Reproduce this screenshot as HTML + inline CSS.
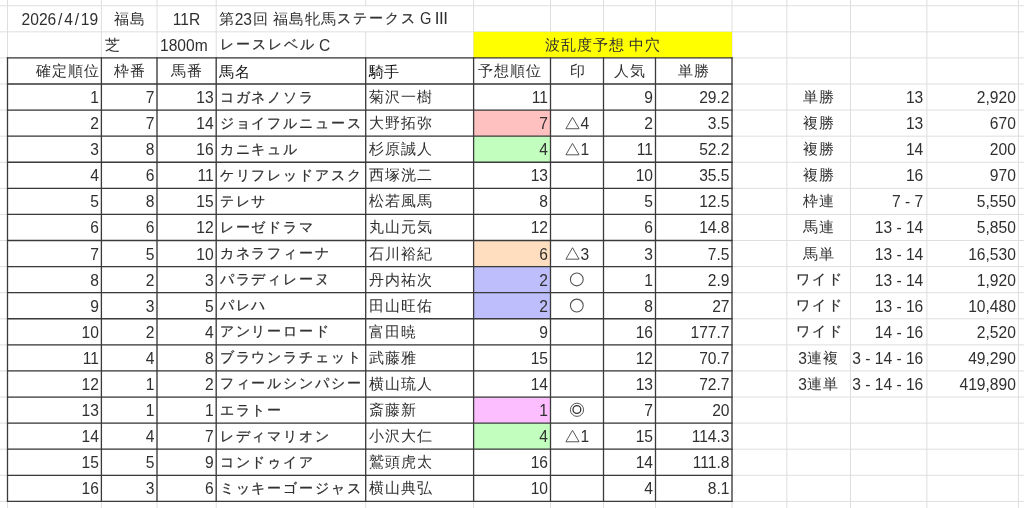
<!DOCTYPE html>
<html lang="ja"><head><meta charset="utf-8"><style>
html,body{margin:0;padding:0;background:#fff;}
body{width:1024px;height:508px;overflow:hidden;position:relative;font-family:"Liberation Sans",sans-serif;font-size:15.6px;color:#303030;}
svg{position:absolute;left:0;top:0;}
.t{position:absolute;white-space:nowrap;-webkit-font-smoothing:antialiased;}
.sl{margin:0 1.8px;}
.j{font-size:14.6px;letter-spacing:1.0px;margin-left:0.5px;margin-right:-0.5px;position:relative;top:-1px;}
.k{font-size:14.0px;letter-spacing:1.9px;margin-left:0.95px;margin-right:-0.95px;position:relative;top:-1.5px;-webkit-text-stroke:0.25px #303030;}
.s{font-size:15.6px;}
</style></head><body>
<div id="w" style="position:absolute;left:0;top:0;width:1024px;height:508px;will-change:transform;">
<svg width="1024" height="508" viewBox="0 0 1024 508"><line x1="0" y1="5.75" x2="1024" y2="5.75" stroke="#dedede" stroke-width="1"/><line x1="0" y1="31.84" x2="1024" y2="31.84" stroke="#dedede" stroke-width="1"/><line x1="0" y1="57.92" x2="1024" y2="57.92" stroke="#dedede" stroke-width="1"/><line x1="0" y1="84.00" x2="1024" y2="84.00" stroke="#dedede" stroke-width="1"/><line x1="0" y1="110.09" x2="1024" y2="110.09" stroke="#dedede" stroke-width="1"/><line x1="0" y1="136.18" x2="1024" y2="136.18" stroke="#dedede" stroke-width="1"/><line x1="0" y1="162.26" x2="1024" y2="162.26" stroke="#dedede" stroke-width="1"/><line x1="0" y1="188.34" x2="1024" y2="188.34" stroke="#dedede" stroke-width="1"/><line x1="0" y1="214.43" x2="1024" y2="214.43" stroke="#dedede" stroke-width="1"/><line x1="0" y1="240.52" x2="1024" y2="240.52" stroke="#dedede" stroke-width="1"/><line x1="0" y1="266.60" x2="1024" y2="266.60" stroke="#dedede" stroke-width="1"/><line x1="0" y1="292.69" x2="1024" y2="292.69" stroke="#dedede" stroke-width="1"/><line x1="0" y1="318.77" x2="1024" y2="318.77" stroke="#dedede" stroke-width="1"/><line x1="0" y1="344.86" x2="1024" y2="344.86" stroke="#dedede" stroke-width="1"/><line x1="0" y1="370.94" x2="1024" y2="370.94" stroke="#dedede" stroke-width="1"/><line x1="0" y1="397.03" x2="1024" y2="397.03" stroke="#dedede" stroke-width="1"/><line x1="0" y1="423.11" x2="1024" y2="423.11" stroke="#dedede" stroke-width="1"/><line x1="0" y1="449.19" x2="1024" y2="449.19" stroke="#dedede" stroke-width="1"/><line x1="0" y1="475.28" x2="1024" y2="475.28" stroke="#dedede" stroke-width="1"/><line x1="0" y1="501.37" x2="1024" y2="501.37" stroke="#dedede" stroke-width="1"/><line x1="7.50" y1="0" x2="7.50" y2="508" stroke="#dedede" stroke-width="1"/><line x1="101.40" y1="0" x2="101.40" y2="508" stroke="#dedede" stroke-width="1"/><line x1="157.00" y1="0" x2="157.00" y2="508" stroke="#dedede" stroke-width="1"/><line x1="216.20" y1="0" x2="216.20" y2="508" stroke="#dedede" stroke-width="1"/><line x1="365.70" y1="0" x2="365.70" y2="508" stroke="#dedede" stroke-width="1"/><line x1="473.60" y1="0" x2="473.60" y2="508" stroke="#dedede" stroke-width="1"/><line x1="550.50" y1="0" x2="550.50" y2="508" stroke="#dedede" stroke-width="1"/><line x1="603.50" y1="0" x2="603.50" y2="508" stroke="#dedede" stroke-width="1"/><line x1="655.50" y1="0" x2="655.50" y2="508" stroke="#dedede" stroke-width="1"/><line x1="732.00" y1="0" x2="732.00" y2="508" stroke="#dedede" stroke-width="1"/><line x1="786.80" y1="0" x2="786.80" y2="508" stroke="#dedede" stroke-width="1"/><line x1="850.50" y1="0" x2="850.50" y2="508" stroke="#dedede" stroke-width="1"/><line x1="926.90" y1="0" x2="926.90" y2="508" stroke="#dedede" stroke-width="1"/><line x1="1018.40" y1="0" x2="1018.40" y2="508" stroke="#dedede" stroke-width="1"/><rect x="364.70" y="6.35" width="2" height="24.89" fill="#fff"/><rect x="473.60" y="31.84" width="258.40" height="26.09" fill="#ffff00"/><rect x="473.60" y="110.09" width="76.90" height="26.09" fill="#ffc0c0"/><rect x="473.60" y="136.18" width="76.90" height="26.08" fill="#c2ffbe"/><rect x="473.60" y="240.52" width="76.90" height="26.09" fill="#ffdec0"/><rect x="473.60" y="266.60" width="76.90" height="26.08" fill="#bebefc"/><rect x="473.60" y="292.69" width="76.90" height="26.08" fill="#bebefc"/><rect x="473.60" y="397.03" width="76.90" height="26.08" fill="#fdbeff"/><rect x="473.60" y="423.11" width="76.90" height="26.08" fill="#c2ffbe"/><line x1="6.90" y1="57.92" x2="732.60" y2="57.92" stroke="#3a3a3a" stroke-width="1.3"/><line x1="6.90" y1="84.00" x2="732.60" y2="84.00" stroke="#3a3a3a" stroke-width="1.3"/><line x1="6.90" y1="110.09" x2="732.60" y2="110.09" stroke="#3a3a3a" stroke-width="1.3"/><line x1="6.90" y1="136.18" x2="732.60" y2="136.18" stroke="#3a3a3a" stroke-width="1.3"/><line x1="6.90" y1="162.26" x2="732.60" y2="162.26" stroke="#3a3a3a" stroke-width="1.3"/><line x1="6.90" y1="188.34" x2="732.60" y2="188.34" stroke="#3a3a3a" stroke-width="1.3"/><line x1="6.90" y1="214.43" x2="732.60" y2="214.43" stroke="#3a3a3a" stroke-width="1.3"/><line x1="6.90" y1="240.52" x2="732.60" y2="240.52" stroke="#3a3a3a" stroke-width="1.3"/><line x1="6.90" y1="266.60" x2="732.60" y2="266.60" stroke="#3a3a3a" stroke-width="1.3"/><line x1="6.90" y1="292.69" x2="732.60" y2="292.69" stroke="#3a3a3a" stroke-width="1.3"/><line x1="6.90" y1="318.77" x2="732.60" y2="318.77" stroke="#3a3a3a" stroke-width="1.3"/><line x1="6.90" y1="344.86" x2="732.60" y2="344.86" stroke="#3a3a3a" stroke-width="1.3"/><line x1="6.90" y1="370.94" x2="732.60" y2="370.94" stroke="#3a3a3a" stroke-width="1.3"/><line x1="6.90" y1="397.03" x2="732.60" y2="397.03" stroke="#3a3a3a" stroke-width="1.3"/><line x1="6.90" y1="423.11" x2="732.60" y2="423.11" stroke="#3a3a3a" stroke-width="1.3"/><line x1="6.90" y1="449.19" x2="732.60" y2="449.19" stroke="#3a3a3a" stroke-width="1.3"/><line x1="6.90" y1="475.28" x2="732.60" y2="475.28" stroke="#3a3a3a" stroke-width="1.3"/><line x1="6.90" y1="501.37" x2="732.60" y2="501.37" stroke="#3a3a3a" stroke-width="1.3"/><line x1="7.50" y1="57.32" x2="7.50" y2="501.97" stroke="#3a3a3a" stroke-width="1.3"/><line x1="101.40" y1="57.32" x2="101.40" y2="501.97" stroke="#3a3a3a" stroke-width="1.3"/><line x1="157.00" y1="57.32" x2="157.00" y2="501.97" stroke="#3a3a3a" stroke-width="1.3"/><line x1="216.20" y1="57.32" x2="216.20" y2="501.97" stroke="#3a3a3a" stroke-width="1.3"/><line x1="365.70" y1="57.32" x2="365.70" y2="501.97" stroke="#3a3a3a" stroke-width="1.3"/><line x1="473.60" y1="57.32" x2="473.60" y2="501.97" stroke="#3a3a3a" stroke-width="1.3"/><line x1="550.50" y1="57.32" x2="550.50" y2="501.97" stroke="#3a3a3a" stroke-width="1.3"/><line x1="603.50" y1="57.32" x2="603.50" y2="501.97" stroke="#3a3a3a" stroke-width="1.3"/><line x1="655.50" y1="57.32" x2="655.50" y2="501.97" stroke="#3a3a3a" stroke-width="1.3"/><line x1="732.00" y1="57.32" x2="732.00" y2="501.97" stroke="#3a3a3a" stroke-width="1.3"/><path d="M565.90 128.73 L572.50 117.33 L579.10 128.73 Z" fill="none" stroke="#444" stroke-width="0.9" stroke-linejoin="miter"/><path d="M565.90 154.82 L572.50 143.42 L579.10 154.82 Z" fill="none" stroke="#444" stroke-width="0.9" stroke-linejoin="miter"/><path d="M565.90 259.16 L572.50 247.76 L579.10 259.16 Z" fill="none" stroke="#444" stroke-width="0.9" stroke-linejoin="miter"/><circle cx="576.80" cy="279.44" r="6.4" fill="none" stroke="#555" stroke-width="1.1"/><circle cx="576.80" cy="305.53" r="6.4" fill="none" stroke="#555" stroke-width="1.1"/><circle cx="577.00" cy="409.77" r="6.6" fill="none" stroke="#555" stroke-width="1"/><circle cx="576.90" cy="409.57" r="3.9" fill="none" stroke="#333" stroke-width="1.3"/><path d="M565.90 441.75 L572.50 430.35 L579.10 441.75 Z" fill="none" stroke="#444" stroke-width="0.9" stroke-linejoin="miter"/></svg>
<div class="t" style="left:7.50px;width:90.70px;text-align:right;top:6.75px;height:26.09px;line-height:26.09px;">2026<span class="sl">/</span>4<span class="sl">/</span>19</div><div class="t" style="left:101.40px;width:55.60px;text-align:center;top:6.75px;height:26.09px;line-height:26.09px;"><span class="j">福島</span></div><div class="t" style="left:157.00px;width:59.20px;text-align:center;top:6.75px;height:26.09px;line-height:26.09px;">11R</div><div class="t" style="left:218.70px;top:6.75px;height:26.09px;line-height:26.09px;"><span class="j">第</span>23<span class="j">回</span> <span class="j">福島牝馬</span><span class="k">ステークス</span> <span id="gg" style="position:absolute;left:201.70px;top:-0.5px;font-size:17px;display:inline-block;transform:scaleX(0.86);transform-origin:0 50%">G</span><span id="g3" style="position:absolute;left:216.00px;top:-0.5px;font-size:17px;letter-spacing:-0.4px">III</span></div><div class="t" style="left:104.40px;width:52.60px;text-align:left;top:32.84px;height:26.09px;line-height:26.09px;"><span class="j">芝</span></div><div class="t" style="left:160.00px;width:56.20px;text-align:left;top:32.84px;height:26.09px;line-height:26.09px;">1800m</div><div class="t" style="left:219.20px;width:146.50px;text-align:left;top:32.84px;height:26.09px;line-height:26.09px;"><span class="k">レースレベル</span> C</div><div class="t" style="left:473.60px;width:258.40px;text-align:center;top:32.84px;height:26.09px;line-height:26.09px;"><span class="j">波乱度予想</span> <span class="j">中穴</span></div><div class="t" style="left:7.50px;width:92.10px;text-align:right;top:58.92px;height:26.08px;line-height:26.08px;"><span class="j">確定順位</span></div><div class="t" style="left:101.40px;width:55.60px;text-align:center;top:58.92px;height:26.08px;line-height:26.08px;"><span class="j">枠番</span></div><div class="t" style="left:157.00px;width:59.20px;text-align:center;top:58.92px;height:26.08px;line-height:26.08px;"><span class="j">馬番</span></div><div class="t" style="left:218.70px;width:147.00px;text-align:left;top:58.92px;height:26.08px;line-height:26.08px;"><span class="j" style="font-size:15.4px;letter-spacing:0.4px;color:#111;top:0.3px">馬名</span></div><div class="t" style="left:368.20px;width:105.40px;text-align:left;top:58.92px;height:26.08px;line-height:26.08px;"><span class="j" style="font-size:15.4px;letter-spacing:0.4px;color:#111;top:0.3px">騎手</span></div><div class="t" style="left:473.60px;width:76.90px;text-align:center;top:58.92px;height:26.08px;line-height:26.08px;margin-left:-3px;"><span class="j">予想順位</span></div><div class="t" style="left:550.50px;width:53.00px;text-align:center;top:58.92px;height:26.08px;line-height:26.08px;"><span class="j">印</span></div><div class="t" style="left:603.50px;width:52.00px;text-align:center;top:58.92px;height:26.08px;line-height:26.08px;"><span class="j">人気</span></div><div class="t" style="left:655.50px;width:76.50px;text-align:center;top:58.92px;height:26.08px;line-height:26.08px;"><span class="j">単勝</span></div><div class="t" style="left:7.50px;width:91.40px;text-align:right;top:85.00px;height:26.09px;line-height:26.09px;">1</div><div class="t" style="left:101.40px;width:53.10px;text-align:right;top:85.00px;height:26.09px;line-height:26.09px;">7</div><div class="t" style="left:157.00px;width:56.70px;text-align:right;top:85.00px;height:26.09px;line-height:26.09px;">13</div><div class="t" style="left:218.70px;width:147.00px;text-align:left;top:85.00px;height:26.09px;line-height:26.09px;"><span class="k">コガネノソラ</span></div><div class="t" style="left:368.20px;width:105.40px;text-align:left;top:85.00px;height:26.09px;line-height:26.09px;"><span class="j">菊沢一樹</span></div><div class="t" style="left:473.60px;width:74.40px;text-align:right;top:85.00px;height:26.09px;line-height:26.09px;">11</div><div class="t" style="left:603.50px;width:49.50px;text-align:right;top:85.00px;height:26.09px;line-height:26.09px;">9</div><div class="t" style="left:655.50px;width:74.00px;text-align:right;top:85.00px;height:26.09px;line-height:26.09px;">29.2</div><div class="t" style="left:7.50px;width:91.40px;text-align:right;top:111.09px;height:26.09px;line-height:26.09px;">2</div><div class="t" style="left:101.40px;width:53.10px;text-align:right;top:111.09px;height:26.09px;line-height:26.09px;">7</div><div class="t" style="left:157.00px;width:56.70px;text-align:right;top:111.09px;height:26.09px;line-height:26.09px;">14</div><div class="t" style="left:218.70px;width:147.00px;text-align:left;top:111.09px;height:26.09px;line-height:26.09px;"><span class="k">ジョイフルニュース</span></div><div class="t" style="left:368.20px;width:105.40px;text-align:left;top:111.09px;height:26.09px;line-height:26.09px;"><span class="j">大野拓弥</span></div><div class="t" style="left:473.60px;width:74.40px;text-align:right;top:111.09px;height:26.09px;line-height:26.09px;">7</div><div class="t" style="left:603.50px;width:49.50px;text-align:right;top:111.09px;height:26.09px;line-height:26.09px;">2</div><div class="t" style="left:655.50px;width:74.00px;text-align:right;top:111.09px;height:26.09px;line-height:26.09px;">3.5</div><div class="t s" style="left:580.6px;top:111.09px;height:26.09px;line-height:26.09px;">4</div><div class="t" style="left:7.50px;width:91.40px;text-align:right;top:137.18px;height:26.08px;line-height:26.08px;">3</div><div class="t" style="left:101.40px;width:53.10px;text-align:right;top:137.18px;height:26.08px;line-height:26.08px;">8</div><div class="t" style="left:157.00px;width:56.70px;text-align:right;top:137.18px;height:26.08px;line-height:26.08px;">16</div><div class="t" style="left:218.70px;width:147.00px;text-align:left;top:137.18px;height:26.08px;line-height:26.08px;"><span class="k">カニキュル</span></div><div class="t" style="left:368.20px;width:105.40px;text-align:left;top:137.18px;height:26.08px;line-height:26.08px;"><span class="j">杉原誠人</span></div><div class="t" style="left:473.60px;width:74.40px;text-align:right;top:137.18px;height:26.08px;line-height:26.08px;">4</div><div class="t" style="left:603.50px;width:49.50px;text-align:right;top:137.18px;height:26.08px;line-height:26.08px;">11</div><div class="t" style="left:655.50px;width:74.00px;text-align:right;top:137.18px;height:26.08px;line-height:26.08px;">52.2</div><div class="t s" style="left:580.6px;top:137.18px;height:26.09px;line-height:26.09px;">1</div><div class="t" style="left:7.50px;width:91.40px;text-align:right;top:163.26px;height:26.09px;line-height:26.09px;">4</div><div class="t" style="left:101.40px;width:53.10px;text-align:right;top:163.26px;height:26.09px;line-height:26.09px;">6</div><div class="t" style="left:157.00px;width:56.70px;text-align:right;top:163.26px;height:26.09px;line-height:26.09px;">11</div><div class="t" style="left:218.70px;width:147.00px;text-align:left;top:163.26px;height:26.09px;line-height:26.09px;"><span class="k">ケリフレッドアスク</span></div><div class="t" style="left:368.20px;width:105.40px;text-align:left;top:163.26px;height:26.09px;line-height:26.09px;"><span class="j">西塚洸二</span></div><div class="t" style="left:473.60px;width:74.40px;text-align:right;top:163.26px;height:26.09px;line-height:26.09px;">13</div><div class="t" style="left:603.50px;width:49.50px;text-align:right;top:163.26px;height:26.09px;line-height:26.09px;">10</div><div class="t" style="left:655.50px;width:74.00px;text-align:right;top:163.26px;height:26.09px;line-height:26.09px;">35.5</div><div class="t" style="left:7.50px;width:91.40px;text-align:right;top:189.34px;height:26.09px;line-height:26.09px;">5</div><div class="t" style="left:101.40px;width:53.10px;text-align:right;top:189.34px;height:26.09px;line-height:26.09px;">8</div><div class="t" style="left:157.00px;width:56.70px;text-align:right;top:189.34px;height:26.09px;line-height:26.09px;">15</div><div class="t" style="left:218.70px;width:147.00px;text-align:left;top:189.34px;height:26.09px;line-height:26.09px;"><span class="k">テレサ</span></div><div class="t" style="left:368.20px;width:105.40px;text-align:left;top:189.34px;height:26.09px;line-height:26.09px;"><span class="j">松若風馬</span></div><div class="t" style="left:473.60px;width:74.40px;text-align:right;top:189.34px;height:26.09px;line-height:26.09px;">8</div><div class="t" style="left:603.50px;width:49.50px;text-align:right;top:189.34px;height:26.09px;line-height:26.09px;">5</div><div class="t" style="left:655.50px;width:74.00px;text-align:right;top:189.34px;height:26.09px;line-height:26.09px;">12.5</div><div class="t" style="left:7.50px;width:91.40px;text-align:right;top:215.43px;height:26.09px;line-height:26.09px;">6</div><div class="t" style="left:101.40px;width:53.10px;text-align:right;top:215.43px;height:26.09px;line-height:26.09px;">6</div><div class="t" style="left:157.00px;width:56.70px;text-align:right;top:215.43px;height:26.09px;line-height:26.09px;">12</div><div class="t" style="left:218.70px;width:147.00px;text-align:left;top:215.43px;height:26.09px;line-height:26.09px;"><span class="k">レーゼドラマ</span></div><div class="t" style="left:368.20px;width:105.40px;text-align:left;top:215.43px;height:26.09px;line-height:26.09px;"><span class="j">丸山元気</span></div><div class="t" style="left:473.60px;width:74.40px;text-align:right;top:215.43px;height:26.09px;line-height:26.09px;">12</div><div class="t" style="left:603.50px;width:49.50px;text-align:right;top:215.43px;height:26.09px;line-height:26.09px;">6</div><div class="t" style="left:655.50px;width:74.00px;text-align:right;top:215.43px;height:26.09px;line-height:26.09px;">14.8</div><div class="t" style="left:7.50px;width:91.40px;text-align:right;top:241.52px;height:26.09px;line-height:26.09px;">7</div><div class="t" style="left:101.40px;width:53.10px;text-align:right;top:241.52px;height:26.09px;line-height:26.09px;">5</div><div class="t" style="left:157.00px;width:56.70px;text-align:right;top:241.52px;height:26.09px;line-height:26.09px;">10</div><div class="t" style="left:218.70px;width:147.00px;text-align:left;top:241.52px;height:26.09px;line-height:26.09px;"><span class="k">カネラフィーナ</span></div><div class="t" style="left:368.20px;width:105.40px;text-align:left;top:241.52px;height:26.09px;line-height:26.09px;"><span class="j">石川裕紀</span></div><div class="t" style="left:473.60px;width:74.40px;text-align:right;top:241.52px;height:26.09px;line-height:26.09px;">6</div><div class="t" style="left:603.50px;width:49.50px;text-align:right;top:241.52px;height:26.09px;line-height:26.09px;">3</div><div class="t" style="left:655.50px;width:74.00px;text-align:right;top:241.52px;height:26.09px;line-height:26.09px;">7.5</div><div class="t s" style="left:580.6px;top:241.52px;height:26.09px;line-height:26.09px;">3</div><div class="t" style="left:7.50px;width:91.40px;text-align:right;top:267.60px;height:26.08px;line-height:26.08px;">8</div><div class="t" style="left:101.40px;width:53.10px;text-align:right;top:267.60px;height:26.08px;line-height:26.08px;">2</div><div class="t" style="left:157.00px;width:56.70px;text-align:right;top:267.60px;height:26.08px;line-height:26.08px;">3</div><div class="t" style="left:218.70px;width:147.00px;text-align:left;top:267.60px;height:26.08px;line-height:26.08px;"><span class="k">パラディレーヌ</span></div><div class="t" style="left:368.20px;width:105.40px;text-align:left;top:267.60px;height:26.08px;line-height:26.08px;"><span class="j">丹内祐次</span></div><div class="t" style="left:473.60px;width:74.40px;text-align:right;top:267.60px;height:26.08px;line-height:26.08px;">2</div><div class="t" style="left:603.50px;width:49.50px;text-align:right;top:267.60px;height:26.08px;line-height:26.08px;">1</div><div class="t" style="left:655.50px;width:74.00px;text-align:right;top:267.60px;height:26.08px;line-height:26.08px;">2.9</div><div class="t" style="left:7.50px;width:91.40px;text-align:right;top:293.69px;height:26.08px;line-height:26.08px;">9</div><div class="t" style="left:101.40px;width:53.10px;text-align:right;top:293.69px;height:26.08px;line-height:26.08px;">3</div><div class="t" style="left:157.00px;width:56.70px;text-align:right;top:293.69px;height:26.08px;line-height:26.08px;">5</div><div class="t" style="left:218.70px;width:147.00px;text-align:left;top:293.69px;height:26.08px;line-height:26.08px;"><span class="k">パレハ</span></div><div class="t" style="left:368.20px;width:105.40px;text-align:left;top:293.69px;height:26.08px;line-height:26.08px;"><span class="j">田山旺佑</span></div><div class="t" style="left:473.60px;width:74.40px;text-align:right;top:293.69px;height:26.08px;line-height:26.08px;">2</div><div class="t" style="left:603.50px;width:49.50px;text-align:right;top:293.69px;height:26.08px;line-height:26.08px;">8</div><div class="t" style="left:655.50px;width:74.00px;text-align:right;top:293.69px;height:26.08px;line-height:26.08px;">27</div><div class="t" style="left:7.50px;width:91.40px;text-align:right;top:319.77px;height:26.09px;line-height:26.09px;">10</div><div class="t" style="left:101.40px;width:53.10px;text-align:right;top:319.77px;height:26.09px;line-height:26.09px;">2</div><div class="t" style="left:157.00px;width:56.70px;text-align:right;top:319.77px;height:26.09px;line-height:26.09px;">4</div><div class="t" style="left:218.70px;width:147.00px;text-align:left;top:319.77px;height:26.09px;line-height:26.09px;"><span class="k">アンリーロード</span></div><div class="t" style="left:368.20px;width:105.40px;text-align:left;top:319.77px;height:26.09px;line-height:26.09px;"><span class="j">富田暁</span></div><div class="t" style="left:473.60px;width:74.40px;text-align:right;top:319.77px;height:26.09px;line-height:26.09px;">9</div><div class="t" style="left:603.50px;width:49.50px;text-align:right;top:319.77px;height:26.09px;line-height:26.09px;">16</div><div class="t" style="left:655.50px;width:74.00px;text-align:right;top:319.77px;height:26.09px;line-height:26.09px;">177.7</div><div class="t" style="left:7.50px;width:91.40px;text-align:right;top:345.86px;height:26.08px;line-height:26.08px;">11</div><div class="t" style="left:101.40px;width:53.10px;text-align:right;top:345.86px;height:26.08px;line-height:26.08px;">4</div><div class="t" style="left:157.00px;width:56.70px;text-align:right;top:345.86px;height:26.08px;line-height:26.08px;">8</div><div class="t" style="left:218.70px;width:147.00px;text-align:left;top:345.86px;height:26.08px;line-height:26.08px;"><span class="k">ブラウンラチェット</span></div><div class="t" style="left:368.20px;width:105.40px;text-align:left;top:345.86px;height:26.08px;line-height:26.08px;"><span class="j">武藤雅</span></div><div class="t" style="left:473.60px;width:74.40px;text-align:right;top:345.86px;height:26.08px;line-height:26.08px;">15</div><div class="t" style="left:603.50px;width:49.50px;text-align:right;top:345.86px;height:26.08px;line-height:26.08px;">12</div><div class="t" style="left:655.50px;width:74.00px;text-align:right;top:345.86px;height:26.08px;line-height:26.08px;">70.7</div><div class="t" style="left:7.50px;width:91.40px;text-align:right;top:371.94px;height:26.09px;line-height:26.09px;">12</div><div class="t" style="left:101.40px;width:53.10px;text-align:right;top:371.94px;height:26.09px;line-height:26.09px;">1</div><div class="t" style="left:157.00px;width:56.70px;text-align:right;top:371.94px;height:26.09px;line-height:26.09px;">2</div><div class="t" style="left:218.70px;width:147.00px;text-align:left;top:371.94px;height:26.09px;line-height:26.09px;"><span class="k">フィールシンパシー</span></div><div class="t" style="left:368.20px;width:105.40px;text-align:left;top:371.94px;height:26.09px;line-height:26.09px;"><span class="j">横山琉人</span></div><div class="t" style="left:473.60px;width:74.40px;text-align:right;top:371.94px;height:26.09px;line-height:26.09px;">14</div><div class="t" style="left:603.50px;width:49.50px;text-align:right;top:371.94px;height:26.09px;line-height:26.09px;">13</div><div class="t" style="left:655.50px;width:74.00px;text-align:right;top:371.94px;height:26.09px;line-height:26.09px;">72.7</div><div class="t" style="left:7.50px;width:91.40px;text-align:right;top:398.03px;height:26.08px;line-height:26.08px;">13</div><div class="t" style="left:101.40px;width:53.10px;text-align:right;top:398.03px;height:26.08px;line-height:26.08px;">1</div><div class="t" style="left:157.00px;width:56.70px;text-align:right;top:398.03px;height:26.08px;line-height:26.08px;">1</div><div class="t" style="left:218.70px;width:147.00px;text-align:left;top:398.03px;height:26.08px;line-height:26.08px;"><span class="k">エラトー</span></div><div class="t" style="left:368.20px;width:105.40px;text-align:left;top:398.03px;height:26.08px;line-height:26.08px;"><span class="j">斎藤新</span></div><div class="t" style="left:473.60px;width:74.40px;text-align:right;top:398.03px;height:26.08px;line-height:26.08px;">1</div><div class="t" style="left:603.50px;width:49.50px;text-align:right;top:398.03px;height:26.08px;line-height:26.08px;">7</div><div class="t" style="left:655.50px;width:74.00px;text-align:right;top:398.03px;height:26.08px;line-height:26.08px;">20</div><div class="t" style="left:7.50px;width:91.40px;text-align:right;top:424.11px;height:26.08px;line-height:26.08px;">14</div><div class="t" style="left:101.40px;width:53.10px;text-align:right;top:424.11px;height:26.08px;line-height:26.08px;">4</div><div class="t" style="left:157.00px;width:56.70px;text-align:right;top:424.11px;height:26.08px;line-height:26.08px;">7</div><div class="t" style="left:218.70px;width:147.00px;text-align:left;top:424.11px;height:26.08px;line-height:26.08px;"><span class="k">レディマリオン</span></div><div class="t" style="left:368.20px;width:105.40px;text-align:left;top:424.11px;height:26.08px;line-height:26.08px;"><span class="j">小沢大仁</span></div><div class="t" style="left:473.60px;width:74.40px;text-align:right;top:424.11px;height:26.08px;line-height:26.08px;">4</div><div class="t" style="left:603.50px;width:49.50px;text-align:right;top:424.11px;height:26.08px;line-height:26.08px;">15</div><div class="t" style="left:655.50px;width:74.00px;text-align:right;top:424.11px;height:26.08px;line-height:26.08px;">114.3</div><div class="t s" style="left:580.6px;top:424.11px;height:26.09px;line-height:26.09px;">1</div><div class="t" style="left:7.50px;width:91.40px;text-align:right;top:450.19px;height:26.09px;line-height:26.09px;">15</div><div class="t" style="left:101.40px;width:53.10px;text-align:right;top:450.19px;height:26.09px;line-height:26.09px;">5</div><div class="t" style="left:157.00px;width:56.70px;text-align:right;top:450.19px;height:26.09px;line-height:26.09px;">9</div><div class="t" style="left:218.70px;width:147.00px;text-align:left;top:450.19px;height:26.09px;line-height:26.09px;"><span class="k">コンドゥイア</span></div><div class="t" style="left:368.20px;width:105.40px;text-align:left;top:450.19px;height:26.09px;line-height:26.09px;"><span class="j">鷲頭虎太</span></div><div class="t" style="left:473.60px;width:74.40px;text-align:right;top:450.19px;height:26.09px;line-height:26.09px;">16</div><div class="t" style="left:603.50px;width:49.50px;text-align:right;top:450.19px;height:26.09px;line-height:26.09px;">14</div><div class="t" style="left:655.50px;width:74.00px;text-align:right;top:450.19px;height:26.09px;line-height:26.09px;">111.8</div><div class="t" style="left:7.50px;width:91.40px;text-align:right;top:476.28px;height:26.08px;line-height:26.08px;">16</div><div class="t" style="left:101.40px;width:53.10px;text-align:right;top:476.28px;height:26.08px;line-height:26.08px;">3</div><div class="t" style="left:157.00px;width:56.70px;text-align:right;top:476.28px;height:26.08px;line-height:26.08px;">6</div><div class="t" style="left:218.70px;width:147.00px;text-align:left;top:476.28px;height:26.08px;line-height:26.08px;"><span class="k">ミッキーゴージャス</span></div><div class="t" style="left:368.20px;width:105.40px;text-align:left;top:476.28px;height:26.08px;line-height:26.08px;"><span class="j">横山典弘</span></div><div class="t" style="left:473.60px;width:74.40px;text-align:right;top:476.28px;height:26.08px;line-height:26.08px;">10</div><div class="t" style="left:603.50px;width:49.50px;text-align:right;top:476.28px;height:26.08px;line-height:26.08px;">4</div><div class="t" style="left:655.50px;width:74.00px;text-align:right;top:476.28px;height:26.08px;line-height:26.08px;">8.1</div><div class="t" style="left:786.80px;width:63.70px;text-align:center;top:85.00px;height:26.09px;line-height:26.09px;"><span class="j">単勝</span></div><div class="t" style="left:850.50px;width:72.80px;text-align:right;overflow:hidden;top:85.00px;height:26.09px;line-height:26.09px;">13</div><div class="t" style="left:926.90px;width:89.00px;text-align:right;top:85.00px;height:26.09px;line-height:26.09px;">2,920</div><div class="t" style="left:786.80px;width:63.70px;text-align:center;top:111.09px;height:26.09px;line-height:26.09px;"><span class="j">複勝</span></div><div class="t" style="left:850.50px;width:72.80px;text-align:right;overflow:hidden;top:111.09px;height:26.09px;line-height:26.09px;">13</div><div class="t" style="left:926.90px;width:89.00px;text-align:right;top:111.09px;height:26.09px;line-height:26.09px;">670</div><div class="t" style="left:786.80px;width:63.70px;text-align:center;top:137.18px;height:26.08px;line-height:26.08px;"><span class="j">複勝</span></div><div class="t" style="left:850.50px;width:72.80px;text-align:right;overflow:hidden;top:137.18px;height:26.08px;line-height:26.08px;">14</div><div class="t" style="left:926.90px;width:89.00px;text-align:right;top:137.18px;height:26.08px;line-height:26.08px;">200</div><div class="t" style="left:786.80px;width:63.70px;text-align:center;top:163.26px;height:26.09px;line-height:26.09px;"><span class="j">複勝</span></div><div class="t" style="left:850.50px;width:72.80px;text-align:right;overflow:hidden;top:163.26px;height:26.09px;line-height:26.09px;">16</div><div class="t" style="left:926.90px;width:89.00px;text-align:right;top:163.26px;height:26.09px;line-height:26.09px;">970</div><div class="t" style="left:786.80px;width:63.70px;text-align:center;top:189.34px;height:26.09px;line-height:26.09px;"><span class="j">枠連</span></div><div class="t" style="left:850.50px;width:72.80px;text-align:right;overflow:hidden;top:189.34px;height:26.09px;line-height:26.09px;">7 - 7</div><div class="t" style="left:926.90px;width:89.00px;text-align:right;top:189.34px;height:26.09px;line-height:26.09px;">5,550</div><div class="t" style="left:786.80px;width:63.70px;text-align:center;top:215.43px;height:26.09px;line-height:26.09px;"><span class="j">馬連</span></div><div class="t" style="left:850.50px;width:72.80px;text-align:right;overflow:hidden;top:215.43px;height:26.09px;line-height:26.09px;">13 - 14</div><div class="t" style="left:926.90px;width:89.00px;text-align:right;top:215.43px;height:26.09px;line-height:26.09px;">5,850</div><div class="t" style="left:786.80px;width:63.70px;text-align:center;top:241.52px;height:26.09px;line-height:26.09px;"><span class="j">馬単</span></div><div class="t" style="left:850.50px;width:72.80px;text-align:right;overflow:hidden;top:241.52px;height:26.09px;line-height:26.09px;">13 - 14</div><div class="t" style="left:926.90px;width:89.00px;text-align:right;top:241.52px;height:26.09px;line-height:26.09px;">16,530</div><div class="t" style="left:786.80px;width:63.70px;text-align:center;top:267.60px;height:26.08px;line-height:26.08px;"><span class="k">ワイド</span></div><div class="t" style="left:850.50px;width:72.80px;text-align:right;overflow:hidden;top:267.60px;height:26.08px;line-height:26.08px;">13 - 14</div><div class="t" style="left:926.90px;width:89.00px;text-align:right;top:267.60px;height:26.08px;line-height:26.08px;">1,920</div><div class="t" style="left:786.80px;width:63.70px;text-align:center;top:293.69px;height:26.08px;line-height:26.08px;"><span class="k">ワイド</span></div><div class="t" style="left:850.50px;width:72.80px;text-align:right;overflow:hidden;top:293.69px;height:26.08px;line-height:26.08px;">13 - 16</div><div class="t" style="left:926.90px;width:89.00px;text-align:right;top:293.69px;height:26.08px;line-height:26.08px;">10,480</div><div class="t" style="left:786.80px;width:63.70px;text-align:center;top:319.77px;height:26.09px;line-height:26.09px;"><span class="k">ワイド</span></div><div class="t" style="left:850.50px;width:72.80px;text-align:right;overflow:hidden;top:319.77px;height:26.09px;line-height:26.09px;">14 - 16</div><div class="t" style="left:926.90px;width:89.00px;text-align:right;top:319.77px;height:26.09px;line-height:26.09px;">2,520</div><div class="t" style="left:786.80px;width:63.70px;text-align:center;top:345.86px;height:26.08px;line-height:26.08px;">3<span class="j">連複</span></div><div class="t" style="left:850.50px;width:72.80px;text-align:right;overflow:hidden;top:345.86px;height:26.08px;line-height:26.08px;">3 - 14 - 16</div><div class="t" style="left:926.90px;width:89.00px;text-align:right;top:345.86px;height:26.08px;line-height:26.08px;">49,290</div><div class="t" style="left:786.80px;width:63.70px;text-align:center;top:371.94px;height:26.09px;line-height:26.09px;">3<span class="j">連単</span></div><div class="t" style="left:850.50px;width:72.80px;text-align:right;overflow:hidden;top:371.94px;height:26.09px;line-height:26.09px;">3 - 14 - 16</div><div class="t" style="left:926.90px;width:89.00px;text-align:right;top:371.94px;height:26.09px;line-height:26.09px;">419,890</div>
</div>
</body></html>
